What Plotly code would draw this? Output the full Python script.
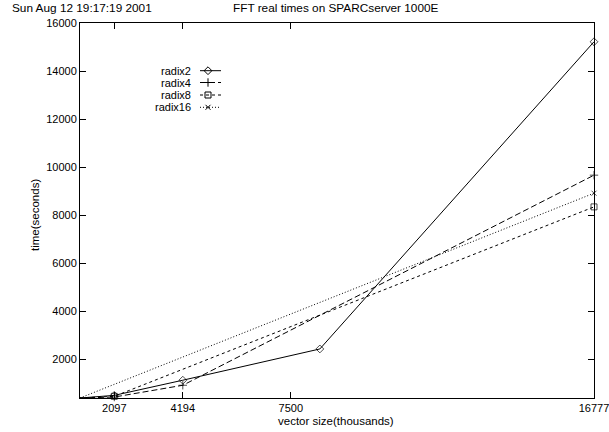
import plotly.graph_objects as go

# vector sizes (thousands of elements) and measured times (seconds)
sizes_radix2 = [1048, 2097, 4194, 8388, 16777]
times_radix2 = [400, 510, 1140, 2440, 15220]

sizes_radix4 = [1048, 2097, 4194, 16777]
times_radix4 = [400, 440, 930, 9670]

sizes_radix8 = [1048, 2097, 16777]
times_radix8 = [400, 470, 8350]

sizes_radix16 = [1048, 16777]
times_radix16 = [400, 8920]

x_tick_vals = [2097, 4194, 7500, 16777]
x_tick_text = ["2097", "4194", "7500", "16777"]
y_tick_vals = [2000, 4000, 6000, 8000, 10000, 12000, 14000, 16000]
y_tick_text = [str(v) for v in y_tick_vals]

FONT = "Liberation Sans, Arial, Helvetica, sans-serif"
W, H = 609, 432
L, R, T, B = 80, 15, 23, 34

series = [
    ("radix2", sizes_radix2, times_radix2, "solid", "diamond-open", 6),
    ("radix4", sizes_radix4, times_radix4, "6px,3px", "cross-thin-open", 6),
    ("radix8", sizes_radix8, times_radix8, "3px,3px", "square-open", 6),
    ("radix16", sizes_radix16, times_radix16, "1px,2px", "x-thin-open", 5),
]

fig = go.Figure()
for name, xs, ys, dash, sym, msz in series:
    # no symbol on the first (origin-side) point
    sizes = [0] + [msz] * (len(xs) - 1)
    fig.add_trace(go.Scatter(
        x=xs, y=ys, mode="lines+markers", name=name,
        line=dict(color="black", width=1, dash=dash),
        marker=dict(symbol=sym, size=sizes, color="black",
                    line=dict(color="black", width=1)),
        cliponaxis=False, showlegend=False,
    ))

# key drawn in pixel coordinates on an overlay axis pair
key_rows = [70.7, 82.5, 95.0, 107.3]
for (name, xs, ys, dash, sym, msz), ky in zip(series, key_rows):
    fig.add_trace(go.Scatter(
        x=[200, 221], y=[ky, ky], mode="lines", xaxis="x2", yaxis="y2",
        line=dict(color="black", width=1, dash=dash),
        showlegend=False, hoverinfo="skip",
    ))
    fig.add_trace(go.Scatter(
        x=[208], y=[ky], mode="markers", xaxis="x2", yaxis="y2",
        marker=dict(symbol=sym, size=msz, color="black",
                    line=dict(color="black", width=1)),
        showlegend=False, hoverinfo="skip",
    ))
    fig.add_annotation(x=193, y=ky, xref="x2", yref="y2", text=name,
                       showarrow=False, xanchor="right", yanchor="middle",
                       font=dict(family=FONT, size=11, color="black"))

axis_common = dict(
    showline=True, mirror="ticks", linecolor="black", linewidth=1,
    ticks="inside", ticklen=6, tickcolor="black", tickwidth=1,
    showgrid=False, zeroline=False, ticklabeloverflow="allow",
    automargin=False,
    tickfont=dict(family=FONT, size=11, color="black"),
)

fig.update_layout(
    width=W, height=H,
    margin=dict(l=L, r=R, t=T, b=B, autoexpand=False),
    paper_bgcolor="white", plot_bgcolor="white",
    font=dict(family=FONT, size=11, color="black"),
    xaxis=dict(range=[1048, 16777.01], tickvals=x_tick_vals,
               ticktext=x_tick_text, **axis_common),
    yaxis=dict(range=[400, 16000.01], tickvals=y_tick_vals,
               ticktext=y_tick_text, **axis_common),
    xaxis2=dict(range=[L, W - R], overlaying="x", visible=False),
    yaxis2=dict(range=[H - B, T], overlaying="y", visible=False),
)

PW, PH = W - L - R, H - T - B
fig.add_annotation(text="Sun Aug 12 19:17:19 2001", xref="paper", yref="paper",
                   x=(10 - L) / PW, y=1 + 15 / PH,
                   xanchor="left", yanchor="middle", showarrow=False,
                   font=dict(family=FONT, size=11.8))
fig.add_annotation(text="FFT real times on SPARCserver 1000E", xref="paper",
                   yref="paper", x=(335.5 - L) / PW, y=1 + 15 / PH,
                   xanchor="center", yanchor="middle", showarrow=False,
                   font=dict(family=FONT, size=11.8))
fig.add_annotation(text="vector size(thousands)", xref="paper", yref="paper",
                   x=(335.5 - L) / PW, y=-(421 - (H - B)) / PH,
                   xanchor="center", yanchor="middle", showarrow=False,
                   font=dict(family=FONT, size=11.5))
fig.add_annotation(text="time(seconds)", xref="paper", yref="paper",
                   x=-(L - 35) / PW, y=((H - B) - 215) / PH,
                   xanchor="center", yanchor="middle", showarrow=False,
                   textangle=-90, font=dict(family=FONT, size=11.5))

fig.write_html("out.html")
